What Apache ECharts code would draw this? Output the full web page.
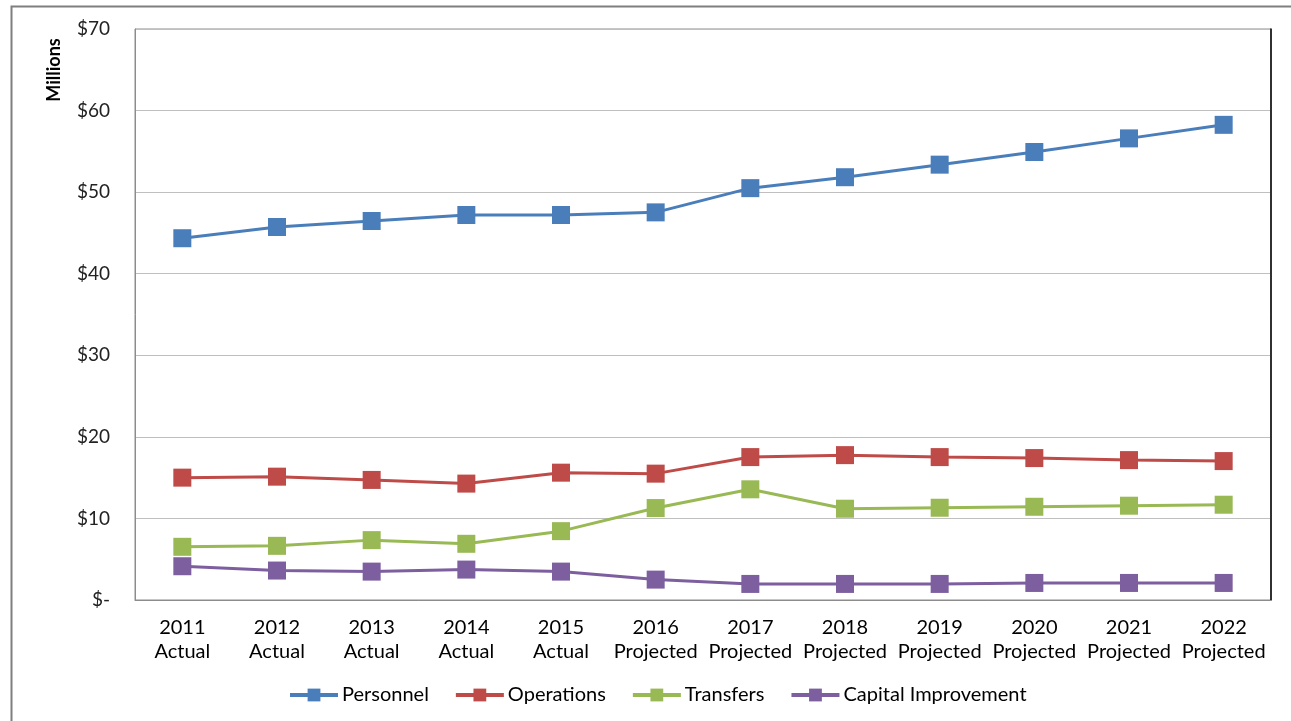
<!DOCTYPE html>
<html>
<head>
<meta charset="utf-8">
<script src="https://cdn.jsdelivr.net/npm/echarts@6/dist/echarts.min.js"></script>
<style>
html,body{margin:0;padding:0;background:#fff;}
#c{width:1291px;height:721px;}
</style>
</head>
<body>
<div id="c"></div>
<script>
var categories = ['2011\nActual','2012\nActual','2013\nActual','2014\nActual','2015\nActual','2016\nProjected','2017\nProjected','2018\nProjected','2019\nProjected','2020\nProjected','2021\nProjected','2022\nProjected'];
var personnel = [44.35,45.73,46.46,47.2,47.2,47.52,50.49,51.83,53.37,54.92,56.59,58.25];
var operations = [15.0,15.12,14.72,14.27,15.61,15.49,17.52,17.76,17.52,17.4,17.15,17.03];
var transfers = [6.52,6.64,7.34,6.89,8.44,11.27,13.57,11.19,11.31,11.43,11.56,11.68];
var capital = [4.14,3.61,3.48,3.73,3.48,2.5,1.97,1.97,1.97,2.09,2.09,2.09];
var seriesNames = ['Personnel','Operations','Transfers','Capital Improvement'];
var colors = ['#4a7ebb','#be4b48','#98b954','#7d5fa0'];
var FONT = 'Lato, "Open Sans", sans-serif';

var chart = echarts.init(document.getElementById('c'));
function mk(name, data, color){
  return {
    name: name, type: 'line', data: data,
    symbol: 'rect', symbolSize: 18,
    lineStyle: {width: 3, color: color},
    itemStyle: {color: color},
    emphasis: {disabled: true},
    animation: false
  };
}
chart.setOption({
  animation: false,
  textStyle: {fontFamily: FONT},
  grid: {left: 135, right: 20, top: 29, bottom: 121, show: true, borderColor: '#8c8c8c', borderWidth: 1},
  graphic: [
    {type: 'rect', shape: {x: 11.5, y: 6.5, width: 1400, height: 800}, style: {fill: 'none', stroke: '#7f7f7f', lineWidth: 2}, z: -1},
    {type: 'text', x: 54, y: 70, rotation: Math.PI/2, style: {text: 'Millions', font: 'bold 18px ' + FONT, fill: '#000', align: 'center', verticalAlign: 'middle'}}
  ],
  legend: {
    data: seriesNames, bottom: 11, left: 283,
    itemWidth: 48, itemHeight: 16, itemGap: 25,
    lineStyle: {width: 4},
    textStyle: {fontSize: 20, color: '#000', fontFamily: FONT, padding: [0, 0, 0, -1]}
  },
  xAxis: {
    type: 'category', data: categories, boundaryGap: true,
    axisLine: {show: true, lineStyle: {color: '#8c8c8c'}},
    axisTick: {show: false},
    axisLabel: {fontSize: 20, color: '#000', lineHeight: 24, margin: 16, interval: 0, fontFamily: FONT}
  },
  yAxis: [{
    type: 'value', min: 0, max: 70, interval: 10,
    axisLine: {show: true, lineStyle: {color: '#8c8c8c'}},
    axisTick: {show: false},
    splitLine: {lineStyle: {color: '#bfbfbf', width: 1}},
    axisLabel: {fontSize: 19, color: '#222', margin: 25, fontFamily: FONT,
      formatter: function(v){ return v === 0 ? '$-' : '$' + v; }}
  },{
    type: 'value', min: 0, max: 70, interval: 10, position: 'right',
    axisLine: {show: true, lineStyle: {color: '#000', width: 1.5}},
    axisTick: {show: false}, axisLabel: {show: false}, splitLine: {show: false}
  }],
  series: [
    mk(seriesNames[0], personnel, colors[0]),
    mk(seriesNames[1], operations, colors[1]),
    mk(seriesNames[2], transfers, colors[2]),
    mk(seriesNames[3], capital, colors[3])
  ]
});
</script>
</body>
</html>
